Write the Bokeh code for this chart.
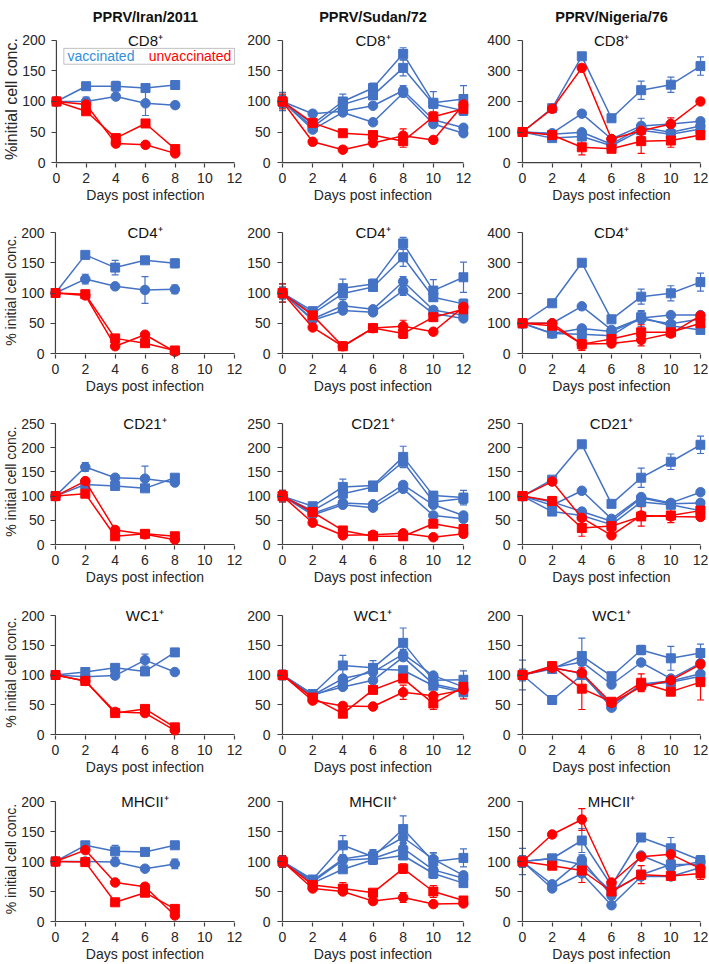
from bokeh.plotting import figure
from bokeh.models import (Range1d, FixedTicker, Label, BoxAnnotation, Whisker,
                          TeeHead, ColumnDataSource, Title)
from bokeh.layouts import row, column
from bokeh.embed import file_html
from bokeh.resources import INLINE

# ---------------------------------------------------------------- data
STRAINS = ["PPRV/Iran/2011", "PPRV/Sudan/72", "PPRV/Nigeria/76"]
CELLS = ["CD8\u207a", "CD4\u207a", "CD21\u207a", "WC1\u207a", "MHCII\u207a"]
Y_TITLES = ["%initial cell conc.", "% initial cell conc.", "% initial cell conc.",
            "% initial cell conc.", "% initial cell conc."]
X_TITLE = "Days post infection"
LEGEND_VAC = "vaccinated"
LEGEND_UNV = "unvaccinated"

DAYS_IRAN = [0, 2, 4, 6, 8]
DAYS = [0, 2, 4, 6, 8, 10, 12]
X_TICKS = [0, 2, 4, 6, 8, 10, 12]

YMAX_IRAN = [200, 200, 250, 200, 200]
YMAX_SUDAN = [200, 200, 250, 200, 200]
YMAX_NIGERIA = [400, 400, 250, 200, 200]
YSTEP_IRAN = [50, 50, 50, 50, 50]
YSTEP_SUDAN = [50, 50, 50, 50, 50]
YSTEP_NIGERIA = [100, 100, 50, 50, 50]

# ---- PPRV/Iran/2011
IRAN_CD8_VAC = [[100, 125, 125, 122, 127], [100, 100, 108, 97, 94]]
IRAN_CD8_VAC_ERR = [[0, 3, 8, 4, 4], [0, 7, 3, 20, 5]]
IRAN_CD8_VAC_SYM = ["square", "circle"]
IRAN_CD8_UNV = [[100, 84, 40, 64, 22], [100, 95, 31, 29, 15]]
IRAN_CD8_UNV_ERR = [[0, 3, 4, 4, 3], [0, 3, 3, 2, 3]]
IRAN_CD8_UNV_SYM = ["square", "circle"]

IRAN_CD4_VAC = [[100, 163, 142, 154, 149], [100, 123, 111, 105, 106]]
IRAN_CD4_VAC_ERR = [[0, 3, 12, 4, 7], [0, 8, 3, 22, 7]]
IRAN_CD4_VAC_SYM = ["square", "circle"]
IRAN_CD4_UNV = [[100, 98, 25, 17, 5], [100, 96, 12, 31, 3]]
IRAN_CD4_UNV_ERR = [[0, 3, 3, 3, 2], [0, 2, 3, 3, 2]]
IRAN_CD4_UNV_SYM = ["square", "circle"]

IRAN_CD21_VAC = [[100, 160, 138, 136, 128], [100, 124, 121, 116, 138]]
IRAN_CD21_VAC_ERR = [[0, 9, 4, 26, 4], [0, 4, 5, 4, 4]]
IRAN_CD21_VAC_SYM = ["circle", "square"]
IRAN_CD21_UNV = [[100, 131, 30, 21, 10], [100, 105, 17, 22, 17]]
IRAN_CD21_UNV_ERR = [[0, 3, 3, 3, 2], [0, 3, 3, 3, 3]]
IRAN_CD21_UNV_SYM = ["circle", "square"]

IRAN_WC1_VAC = [[100, 105, 112, 106, 138], [100, 97, 99, 125, 105]]
IRAN_WC1_VAC_ERR = [[0, 3, 4, 3, 3], [0, 2, 3, 10, 3]]
IRAN_WC1_VAC_SYM = ["square", "circle"]
IRAN_WC1_UNV = [[100, 90, 36, 43, 12], [100, 90, 38, 36, 7]]
IRAN_WC1_UNV_ERR = [[0, 3, 3, 3, 3], [0, 2, 3, 3, 2]]
IRAN_WC1_UNV_SYM = ["square", "circle"]

IRAN_MHC_VAC = [[100, 127, 117, 116, 127], [100, 100, 99, 88, 96]]
IRAN_MHC_VAC_ERR = [[0, 3, 10, 3, 3], [0, 2, 4, 3, 8]]
IRAN_MHC_VAC_SYM = ["square", "circle"]
IRAN_MHC_UNV = [[100, 119, 65, 58, 10], [100, 99, 32, 48, 21]]
IRAN_MHC_UNV_ERR = [[0, 3, 3, 3, 2], [0, 3, 3, 3, 3]]
IRAN_MHC_UNV_SYM = ["circle", "square"]

# ---- PPRV/Sudan/72
SUDAN_CD8_VAC = [[100, 63, 100, 122, 178, 98, 104], [100, 58, 95, 110, 155, 96, 85],
                 [100, 80, 84, 93, 118, 70, 57], [100, 54, 82, 66, 114, 63, 48]]
SUDAN_CD8_VAC_ERR = [[15, 3, 12, 8, 10, 18, 22], [10, 3, 5, 6, 13, 5, 8],
                     [8, 3, 4, 4, 8, 4, 4], [8, 3, 4, 4, 6, 4, 4]]
SUDAN_CD8_VAC_SYM = ["square", "square", "circle", "circle"]
SUDAN_CD8_UNV = [[100, 65, 48, 45, 35, 75, 88], [100, 34, 21, 32, 44, 37, 95]]
SUDAN_CD8_UNV_ERR = [[12, 4, 4, 4, 10, 8, 6], [8, 3, 3, 3, 11, 4, 5]]
SUDAN_CD8_UNV_SYM = ["square", "circle"]

SUDAN_CD4_VAC = [[100, 70, 108, 115, 182, 104, 126], [100, 66, 99, 110, 159, 93, 82],
                 [100, 57, 79, 73, 119, 72, 63], [100, 55, 71, 68, 104, 66, 58]]
SUDAN_CD4_VAC_ERR = [[15, 4, 15, 8, 10, 18, 25], [10, 3, 5, 6, 15, 5, 8],
                     [8, 3, 10, 4, 8, 4, 4], [8, 3, 4, 4, 8, 4, 4]]
SUDAN_CD4_VAC_SYM = ["square", "square", "circle", "circle"]
SUDAN_CD4_UNV = [[100, 63, 12, 42, 33, 60, 73], [100, 43, 12, 42, 45, 36, 77]]
SUDAN_CD4_UNV_ERR = [[15, 4, 3, 4, 8, 5, 6], [8, 3, 3, 3, 10, 4, 5]]
SUDAN_CD4_UNV_SYM = ["square", "circle"]

SUDAN_CD21_VAC = [[100, 79, 119, 122, 181, 101, 97], [100, 70, 105, 119, 171, 88, 95],
                  [100, 64, 86, 83, 123, 82, 60], [100, 61, 82, 76, 115, 60, 53]]
SUDAN_CD21_VAC_ERR = [[12, 4, 16, 6, 22, 8, 15], [10, 3, 6, 6, 8, 5, 10],
                      [8, 3, 5, 4, 6, 4, 4], [8, 3, 4, 4, 6, 4, 4]]
SUDAN_CD21_VAC_SYM = ["square", "square", "circle", "circle"]
SUDAN_CD21_UNV = [[100, 67, 29, 17, 17, 43, 32], [100, 45, 19, 20, 23, 15, 22]]
SUDAN_CD21_UNV_ERR = [[12, 4, 4, 3, 3, 4, 4], [8, 3, 3, 3, 3, 3, 3]]
SUDAN_CD21_UNV_SYM = ["square", "circle"]

SUDAN_WC1_VAC = [[100, 68, 116, 112, 154, 91, 92], [100, 66, 94, 105, 135, 99, 80],
                 [100, 67, 80, 91, 130, 85, 74], [100, 65, 85, 110, 108, 82, 71]]
SUDAN_WC1_VAC_ERR = [[8, 3, 17, 12, 25, 8, 15], [8, 3, 5, 5, 8, 4, 4],
                     [6, 3, 4, 4, 6, 4, 4], [6, 3, 4, 6, 6, 4, 4]]
SUDAN_WC1_VAC_SYM = ["square", "circle", "circle", "square"]
SUDAN_WC1_UNV = [[100, 62, 35, 75, 94, 52, 80], [100, 57, 48, 47, 71, 65, 75]]
SUDAN_WC1_UNV_ERR = [[8, 3, 5, 5, 6, 10, 8], [6, 3, 5, 3, 12, 4, 15]]
SUDAN_WC1_UNV_SYM = ["square", "circle"]

SUDAN_MHC_VAC = [[100, 70, 127, 108, 154, 100, 106], [100, 68, 104, 112, 140, 104, 77],
                 [100, 66, 102, 105, 122, 86, 72], [100, 64, 87, 103, 110, 80, 64]]
SUDAN_MHC_VAC_ERR = [[8, 3, 16, 10, 22, 15, 15], [8, 3, 5, 8, 10, 10, 5],
                     [6, 3, 5, 5, 8, 5, 4], [6, 3, 4, 8, 6, 8, 4]]
SUDAN_MHC_VAC_SYM = ["square", "circle", "circle", "square"]
SUDAN_MHC_UNV = [[100, 61, 55, 48, 88, 50, 35], [100, 55, 50, 34, 40, 29, 30]]
SUDAN_MHC_UNV_ERR = [[10, 3, 10, 4, 8, 10, 6], [6, 3, 4, 3, 8, 3, 3]]
SUDAN_MHC_UNV_SYM = ["square", "circle"]

# ---- PPRV/Nigeria/76
NIG_CD8_VAC = [[100, 178, 348, 145, 237, 255, 316], [100, 96, 160, 77, 120, 126, 135],
               [100, 93, 99, 60, 115, 99, 120], [100, 80, 85, 55, 106, 93, 110]]
NIG_CD8_VAC_ERR = [[5, 6, 5, 5, 30, 25, 30], [5, 4, 5, 5, 8, 6, 5],
                   [5, 4, 8, 5, 30, 5, 5], [5, 4, 5, 5, 8, 5, 5]]
NIG_CD8_VAC_SYM = ["square", "circle", "circle", "square"]
NIG_CD8_UNV = [[100, 176, 310, 77, 104, 126, 200], [100, 90, 50, 45, 70, 72, 90]]
NIG_CD8_UNV_ERR = [[5, 5, 8, 5, 6, 20, 5], [5, 5, 25, 5, 40, 22, 15]]
NIG_CD8_UNV_SYM = ["circle", "square"]

NIG_CD4_VAC = [[100, 166, 300, 113, 188, 199, 236], [100, 100, 156, 78, 117, 127, 127],
               [100, 66, 83, 73, 114, 98, 114], [100, 66, 64, 59, 120, 92, 78]]
NIG_CD4_VAC_ERR = [[5, 4, 5, 5, 25, 25, 30], [5, 4, 5, 5, 5, 5, 5],
                   [5, 4, 10, 5, 25, 5, 5], [5, 4, 5, 5, 22, 5, 5]]
NIG_CD4_VAC_SYM = ["square", "circle", "circle", "square"]
NIG_CD4_UNV = [[100, 100, 31, 33, 45, 66, 125], [100, 92, 31, 48, 70, 70, 100]]
NIG_CD4_UNV_ERR = [[5, 5, 20, 5, 20, 8, 5], [5, 5, 20, 5, 25, 8, 20]]
NIG_CD4_UNV_SYM = ["circle", "square"]

NIG_CD21_VAC = [[100, 134, 207, 84, 138, 171, 206], [100, 81, 111, 53, 98, 86, 108],
                [100, 88, 68, 48, 96, 84, 86], [100, 68, 60, 41, 88, 82, 70]]
NIG_CD21_VAC_ERR = [[8, 4, 4, 4, 20, 16, 18], [8, 4, 4, 4, 5, 5, 4],
                    [8, 4, 5, 4, 6, 5, 4], [8, 4, 5, 4, 6, 5, 4]]
NIG_CD21_VAC_SYM = ["square", "circle", "circle", "square"]
NIG_CD21_UNV = [[100, 130, 55, 19, 60, 58, 57], [100, 90, 34, 38, 58, 60, 70]]
NIG_CD21_UNV_ERR = [[8, 4, 4, 3, 5, 5, 4], [8, 4, 17, 5, 20, 15, 8]]
NIG_CD21_UNV_SYM = ["circle", "square"]

NIG_WC1_VAC = [[100, 110, 132, 98, 142, 128, 137], [100, 112, 122, 84, 121, 94, 120],
               [100, 112, 103, 45, 85, 90, 102], [100, 58, 100, 50, 83, 88, 98]]
NIG_WC1_VAC_ERR = [[25, 4, 30, 5, 8, 20, 15], [10, 4, 6, 4, 4, 5, 5],
                   [8, 4, 6, 4, 4, 5, 5], [8, 4, 5, 4, 4, 5, 5]]
NIG_WC1_VAC_SYM = ["square", "circle", "circle", "square"]
NIG_WC1_UNV = [[100, 112, 103, 53, 80, 91, 118], [100, 115, 77, 55, 87, 72, 88]]
NIG_WC1_UNV_ERR = [[5, 4, 5, 4, 5, 6, 5], [5, 4, 35, 5, 15, 6, 30]]
NIG_WC1_UNV_SYM = ["circle", "square"]

NIG_MHC_VAC = [[100, 105, 135, 60, 140, 122, 102], [100, 62, 103, 43, 110, 90, 100],
               [100, 55, 80, 27, 75, 75, 90], [100, 105, 95, 50, 78, 95, 95]]
NIG_MHC_VAC_ERR = [[22, 4, 20, 5, 5, 18, 8], [10, 4, 8, 5, 5, 8, 5],
                   [8, 4, 5, 4, 5, 5, 5], [8, 4, 5, 4, 5, 5, 5]]
NIG_MHC_VAC_SYM = ["square", "circle", "circle", "square"]
NIG_MHC_UNV = [[100, 145, 170, 65, 108, 112, 88], [100, 93, 85, 50, 78, 76, 80]]
NIG_MHC_UNV_ERR = [[5, 4, 18, 5, 5, 8, 5], [5, 4, 20, 5, 15, 5, 10]]
NIG_MHC_UNV_SYM = ["circle", "square"]

PANELS = [
    [(DAYS_IRAN, IRAN_CD8_VAC, IRAN_CD8_VAC_ERR, IRAN_CD8_VAC_SYM, IRAN_CD8_UNV, IRAN_CD8_UNV_ERR, IRAN_CD8_UNV_SYM),
     (DAYS, SUDAN_CD8_VAC, SUDAN_CD8_VAC_ERR, SUDAN_CD8_VAC_SYM, SUDAN_CD8_UNV, SUDAN_CD8_UNV_ERR, SUDAN_CD8_UNV_SYM),
     (DAYS, NIG_CD8_VAC, NIG_CD8_VAC_ERR, NIG_CD8_VAC_SYM, NIG_CD8_UNV, NIG_CD8_UNV_ERR, NIG_CD8_UNV_SYM)],
    [(DAYS_IRAN, IRAN_CD4_VAC, IRAN_CD4_VAC_ERR, IRAN_CD4_VAC_SYM, IRAN_CD4_UNV, IRAN_CD4_UNV_ERR, IRAN_CD4_UNV_SYM),
     (DAYS, SUDAN_CD4_VAC, SUDAN_CD4_VAC_ERR, SUDAN_CD4_VAC_SYM, SUDAN_CD4_UNV, SUDAN_CD4_UNV_ERR, SUDAN_CD4_UNV_SYM),
     (DAYS, NIG_CD4_VAC, NIG_CD4_VAC_ERR, NIG_CD4_VAC_SYM, NIG_CD4_UNV, NIG_CD4_UNV_ERR, NIG_CD4_UNV_SYM)],
    [(DAYS_IRAN, IRAN_CD21_VAC, IRAN_CD21_VAC_ERR, IRAN_CD21_VAC_SYM, IRAN_CD21_UNV, IRAN_CD21_UNV_ERR, IRAN_CD21_UNV_SYM),
     (DAYS, SUDAN_CD21_VAC, SUDAN_CD21_VAC_ERR, SUDAN_CD21_VAC_SYM, SUDAN_CD21_UNV, SUDAN_CD21_UNV_ERR, SUDAN_CD21_UNV_SYM),
     (DAYS, NIG_CD21_VAC, NIG_CD21_VAC_ERR, NIG_CD21_VAC_SYM, NIG_CD21_UNV, NIG_CD21_UNV_ERR, NIG_CD21_UNV_SYM)],
    [(DAYS_IRAN, IRAN_WC1_VAC, IRAN_WC1_VAC_ERR, IRAN_WC1_VAC_SYM, IRAN_WC1_UNV, IRAN_WC1_UNV_ERR, IRAN_WC1_UNV_SYM),
     (DAYS, SUDAN_WC1_VAC, SUDAN_WC1_VAC_ERR, SUDAN_WC1_VAC_SYM, SUDAN_WC1_UNV, SUDAN_WC1_UNV_ERR, SUDAN_WC1_UNV_SYM),
     (DAYS, NIG_WC1_VAC, NIG_WC1_VAC_ERR, NIG_WC1_VAC_SYM, NIG_WC1_UNV, NIG_WC1_UNV_ERR, NIG_WC1_UNV_SYM)],
    [(DAYS_IRAN, IRAN_MHC_VAC, IRAN_MHC_VAC_ERR, IRAN_MHC_VAC_SYM, IRAN_MHC_UNV, IRAN_MHC_UNV_ERR, IRAN_MHC_UNV_SYM),
     (DAYS, SUDAN_MHC_VAC, SUDAN_MHC_VAC_ERR, SUDAN_MHC_VAC_SYM, SUDAN_MHC_UNV, SUDAN_MHC_UNV_ERR, SUDAN_MHC_UNV_SYM),
     (DAYS, NIG_MHC_VAC, NIG_MHC_VAC_ERR, NIG_MHC_VAC_SYM, NIG_MHC_UNV, NIG_MHC_UNV_ERR, NIG_MHC_UNV_SYM)],
]
YMAX = [YMAX_IRAN, YMAX_SUDAN, YMAX_NIGERIA]
YSTEP = [YSTEP_IRAN, YSTEP_SUDAN, YSTEP_NIGERIA]

# ---------------------------------------------------------------- style / geometry
FONT = "Liberation Sans"
BLUE = "#4472C4"
BLUE_TXT = "#2F8FDB"
RED = "#FF0000"
AX = "#404040"
TXT = "#262626"

PADX = 5           # px frame padding left/right of day 0 / day 12
PADB = 5           # px frame padding below 0
PADT = 10          # px frame padding above ymax
COL_GEOM = [dict(bl=48, span=181, br=5), dict(bl=33, span=181, br=16), dict(bl=32, span=179, br=3)]
ROW_BT = [29, 16, 16, 17, 13]
ROW_DATA_H = [123, 121, 121, 119, 120]
ROW_BB = [39, 39, 39, 39, 37]


def make_panel(ci, ri):
    days, vac, vac_err, vac_sym, unv, unv_err, unv_sym = PANELS[ri][ci]
    ymax = YMAX[ci][ri]
    ystep = YSTEP[ci][ri]
    g = COL_GEOM[ci]
    data_h = ROW_DATA_H[ri]
    ppx = g["span"] / 12.0
    ppy = data_h / ymax
    width = g["bl"] + g["span"] + 2 * PADX + g["br"]
    height = ROW_BT[ri] + data_h + PADB + PADT + ROW_BB[ri]
    p = figure(width=width, height=height,
               x_range=Range1d(-PADX / ppx, 12 + PADX / ppx),
               y_range=Range1d(-PADB / ppy, ymax + PADT / ppy),
               output_backend="svg", toolbar_location=None, tools="",
               min_border_left=g["bl"], min_border_right=g["br"],
               min_border_top=ROW_BT[ri], min_border_bottom=ROW_BB[ri])
    p.outline_line_color = None
    p.xgrid.visible = False
    p.ygrid.visible = False

    for ax in (p.xaxis[0], p.yaxis[0]):
        ax.axis_line_color = None
        ax.major_tick_line_color = AX
        ax.major_tick_line_width = 1.2
        ax.minor_tick_line_color = None
        ax.major_tick_out = 0
        ax.major_label_text_font = FONT
        ax.major_label_text_font_size = "14px"
        ax.major_label_text_color = TXT
    p.xaxis[0].ticker = FixedTicker(ticks=X_TICKS)
    p.xaxis[0].major_tick_in = 4
    p.xaxis[0].major_label_standoff = 5
    p.yaxis[0].ticker = FixedTicker(ticks=list(range(0, ymax + 1, ystep)))
    p.yaxis[0].major_tick_in = 5
    p.yaxis[0].major_label_standoff = 6 if ci == 0 else 7

    # axis lines through the data origin
    p.line([X_TICKS[0], X_TICKS[0]], [0, ymax], line_color=AX, line_width=1.2)
    p.line([X_TICKS[0], X_TICKS[-1]], [0, 0], line_color=AX, line_width=1.2)

    def draw(series, errs, syms, color):
        for vals, err, sym in zip(series, errs, syms):
            src = ColumnDataSource(dict(x=days[:len(vals)], y=vals,
                                        lo=[v - e for v, e in zip(vals, err)],
                                        hi=[v + e for v, e in zip(vals, err)]))
            w = Whisker(source=src, base="x", upper="hi", lower="lo", dimension="height",
                        line_color=color, line_width=1.2,
                        upper_head=TeeHead(size=7, line_color=color, line_width=1.2),
                        lower_head=TeeHead(size=7, line_color=color, line_width=1.2))
            p.add_layout(w)
            p.line("x", "y", source=src, line_color=color, line_width=1.5)
            p.scatter("x", "y", source=src, marker=sym, size=9 if sym == "square" else 9.5,
                      fill_color=color, line_color=color)

    draw(vac, vac_err, vac_sym, BLUE)
    draw(unv, unv_err, unv_sym, RED)

    # panel label (inside the frame, centred on the top of the y axis)
    p.add_layout(Label(x=6, y=ymax, text=CELLS[ri], text_font=FONT,
                       text_font_size="15px", text_color="#111111",
                       text_align="center", text_baseline="middle"))
    # x axis title
    p.add_layout(Title(text=X_TITLE, align="center", text_font=FONT, text_font_size="14px",
                       text_font_style="normal", text_color=TXT, standoff=-2), "below")
    if ri == 0:
        p.add_layout(Title(text=STRAINS[ci], align="center", text_font=FONT,
                           text_font_size="14.5px", text_font_style="bold",
                           text_color="#111111", standoff=12), "above")
    if ci == 0:
        p.add_layout(Title(text=Y_TITLES[ri], align="center", text_font=FONT,
                           text_font_size="16px" if ri == 0 else "14px",
                           text_font_style="normal", text_color=TXT, standoff=0), "left")
        if ri == 0:
            p.add_layout(BoxAnnotation(left=0.5, right=12, bottom=161, top=187,
                                       fill_color=None, fill_alpha=0,
                                       line_color="#333333", line_width=1))
            p.add_layout(Label(x=3.0, y=174, text=LEGEND_VAC, text_font=FONT,
                               text_font_size="14px", text_color=BLUE_TXT,
                               text_align="center", text_baseline="middle"))
            p.add_layout(Label(x=9.0, y=174, text=LEGEND_UNV, text_font=FONT,
                               text_font_size="14px", text_color=RED,
                               text_align="center", text_baseline="middle"))
    return p


rows = []
for ri in range(5):
    rows.append(row(*[make_panel(ci, ri) for ci in range(3)], spacing=0))
layout = column(*rows, spacing=0)

open("out.html", "w").write(file_html(layout, INLINE))
